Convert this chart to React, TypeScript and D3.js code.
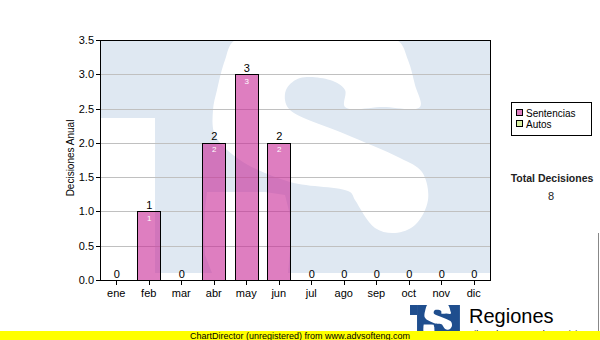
import React from "react";
import * as d3 from "d3";

const months = ["ene", "feb", "mar", "abr", "may", "jun", "jul", "ago", "sep", "oct", "nov", "dic"];
const sentencias = [0, 1, 0, 2, 3, 2, 0, 0, 0, 0, 0, 0];
const autos = [0, 0, 0, 0, 0, 0, 0, 0, 0, 0, 0, 0];
const yTicks = [0, 0.5, 1, 1.5, 2, 2.5, 3, 3.5];
const legendItems = ["Sentencias", "Autos"];
const totalDecisiones = 8;

// watermark logo shape (local coords, 390 x 233 box)
const wmWhiteA: [number, number][] = [
  [113, 70], [117, 50], [125, 20], [135, 0], [216, -6], [297, 0], [308, 20], [315, 45], [320, 67],
  [283, 67], [245, 67], [245, 50], [230, 40], [200, 38], [187, 48], [185, 60], [190, 70],
  [245, 94], [300, 118], [322, 132], [328, 160], [315, 185], [295, 193], [275, 188], [255, 160],
  [250, 152], [190, 142], [140, 120], [115, 95],
];
const wmWhiteB: [number, number][] = [
  [107, 152], [165, 152], [185, 155], [190, 175], [191, 200], [188, 233], [112, 233], [105, 215], [104, 195], [105, 170],
];

const W = 600, H = 340;
const L = 100, R = 490, T = 40, B = 280;
const PINK = "rgb(200,40,150)";
const GREEN = "#d9f0a3";
const FONT = "'Liberation Sans', Arial, sans-serif";

function Logo({ blue, fill }: { blue: string; fill: string }) {
  const smooth = d3.line().curve(d3.curveCatmullRomClosed);
  const lin = d3.line().curve(d3.curveLinearClosed);
  return (
    <g>
      <rect x={0} y={0} width={56} height={78} fill={blue} />
      <rect x={55} y={0} width={335} height={233} fill={blue} />
      <path d={smooth(wmWhiteA) || ""} fill={fill} />
      <path d={lin(wmWhiteB) || ""} fill={fill} />
    </g>
  );
}

export default function App() {
  const x = d3.scalePoint<string>().domain(months).range([L, R]).padding(0.5);
  const step = x.step();
  const barW = step * 0.7;
  const y = d3.scaleLinear().domain([0, 3.5]).range([B, T]);
  const totals = months.map((_, i) => sentencias[i] + autos[i]);

  return (
    <svg width={W} height={H} style={{ position: "absolute", left: 0, top: 0 }} fontFamily={FONT}>
      <defs>
        <clipPath id="plotclip">
          <rect x={L} y={T} width={R - L} height={B - T} />
        </clipPath>
      </defs>
      <rect x={0} y={0} width={W} height={H} fill="#ffffff" />
      {/* watermark */}
      <g clipPath="url(#plotclip)">
        <g transform={`translate(${L},${T})`}>
          <Logo blue="#dfe8f2" fill="#ffffff" />
        </g>
      </g>
      {/* grid */}
      {yTicks.map((t) => (
        <line key={t} x1={L} x2={R} y1={Math.round(y(t)) + 0.5} y2={Math.round(y(t)) + 0.5} stroke="#c0c0c0" strokeWidth={1} />
      ))}
      {/* bars */}
      {months.map((m, i) =>
        sentencias[i] > 0 ? (
          <rect
            key={m}
            x={Math.round(x(m)! - barW / 2) + 0.5}
            y={Math.round(y(sentencias[i])) + 0.5}
            width={Math.round(barW)}
            height={Math.round(y(0)) - Math.round(y(sentencias[i]))}
            fill={PINK}
            fillOpacity={0.6}
            stroke="#000"
            strokeWidth={1}
          />
        ) : null
      )}
      {/* plot border */}
      <rect x={L + 0.5} y={T + 0.5} width={R - L} height={B - T} fill="none" stroke="#000" strokeWidth={1} />
      {/* y axis ticks */}
      {yTicks.map((t) => (
        <g key={t}>
          <line x1={96} x2={L} y1={Math.round(y(t)) + 0.5} y2={Math.round(y(t)) + 0.5} stroke="#000" />
          <text x={94} y={y(t) + 4} textAnchor="end" fontSize={11} fill="#000">
            {t.toFixed(1)}
          </text>
        </g>
      ))}
      <text transform={`translate(74,158) rotate(-90)`} textAnchor="middle" fontSize={10} fill="#000">
        Decisiones Anual
      </text>
      {/* x axis ticks */}
      {months.map((m) => (
        <g key={m}>
          <line x1={Math.round(x(m)!) + 0.5} x2={Math.round(x(m)!) + 0.5} y1={B} y2={B + 5} stroke="#000" />
          <text x={x(m)!} y={297} textAnchor="middle" fontSize={11} fill="#000">
            {m}
          </text>
        </g>
      ))}
      {/* value labels */}
      {months.map((m, i) => (
        <g key={m}>
          <text x={x(m)! + 0.5} y={y(totals[i]) - 2.5} textAnchor="middle" fontSize={11} fill="#000">
            {totals[i]}
          </text>
          {sentencias[i] > 0 ? (
            <text x={x(m)! + 0.5} y={y(sentencias[i]) + 9.5} textAnchor="middle" fontSize={8} fill="#fff">
              {sentencias[i]}
            </text>
          ) : null}
        </g>
      ))}
      {/* legend */}
      <rect x={511.5} y={102.5} width={80} height={33} fill="#fff" stroke="#000" />
      {legendItems.map((name, i) => (
        <g key={name}>
          <rect x={516.5} y={109.5 + i * 11} width={6} height={6} fill={i === 0 ? "#de7ec0" : GREEN} stroke="#000" />
          <text x={526} y={117 + i * 11} fontSize={10} fill="#000">
            {name}
          </text>
        </g>
      ))}
      <text x={552} y={182} textAnchor="middle" fontSize={10.5} fontWeight="bold" fill="#222">
        Total Decisiones
      </text>
      <text x={551} y={200} textAnchor="middle" fontSize={11} fill="#222">
        {totalDecisiones}
      </text>
      {/* bottom logo */}
      <g transform="translate(410,305) scale(0.128)">
        <Logo blue="#1f4e8e" fill="#ffffff" />
      </g>
      <text x={469} y={323} fontSize={20} fill="#000">
        Regiones
      </text>
      <text x={466} y={337} fontSize={9} fill="#000">
        Tribunal Supremo de Justicia
      </text>
      <line x1={598.5} x2={598.5} y1={233} y2={331} stroke="#888" />
      {/* unregistered banner */}
      <rect x={0} y={331} width={W} height={9} fill="#ffff00" />
      <text x={300} y={338.5} textAnchor="middle" fontSize={9} fill="#000">
        ChartDirector (unregistered) from www.advsofteng.com
      </text>
    </svg>
  );
}
